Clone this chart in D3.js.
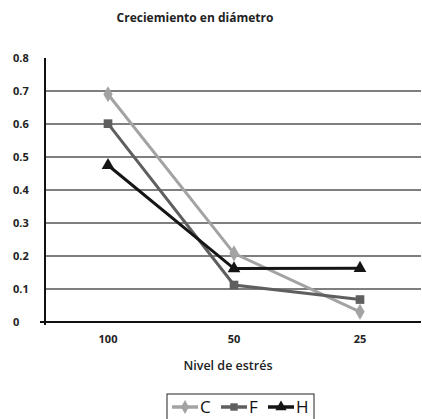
<!DOCTYPE html>
<html><head><meta charset="utf-8">
<script src="https://cdn.jsdelivr.net/npm/d3@7"></script>
<style>body{margin:0;background:#fff}svg{display:block}text{font-family:"Open Sans",sans-serif}</style>
</head><body><svg id="c" width="422" height="419"></svg>
<script>
const categories = ["100", "50", "25"];
const seriesNames = ["C", "F", "H"];
const valuesC = [0.69, 0.208, 0.031];
const valuesF = [0.601, 0.112, 0.068];
const valuesH = [0.475, 0.162, 0.163];
const yTicks = [0, 0.1, 0.2, 0.3, 0.4, 0.5, 0.6, 0.7, 0.8];
const yTickLabels = ["0", "0.1", "0.2", "0.3", "0.4", "0.5", "0.6", "0.7", "0.8"];
const title = "Creciemiento en diámetro";
const xTitle = "Nivel de estrés";

const series = [
  {name: seriesNames[0], values: valuesC, color: "#a3a3a3", sym: d3.symbolDiamond},
  {name: seriesNames[1], values: valuesF, color: "#5f5f5f", sym: d3.symbolSquare},
  {name: seriesNames[2], values: valuesH, color: "#151515", sym: d3.symbolTriangle}
];

const svg = d3.select("#c");
const pLeft = 45, pRight = 421, pTop = 58, pBottom = 322;
const x = d3.scaleBand().domain(categories).range([pLeft, pRight + 2]);
const cx = d => x(d) + x.bandwidth() / 2;
const y = d3.scaleLinear().domain([0, 0.8]).range([pBottom, pTop]);

// gridlines
svg.append("g").selectAll("line").data(yTicks.filter(t => t > 0 && t < 0.8)).join("line")
  .attr("x1", pLeft).attr("x2", pRight).attr("y1", d => y(d)).attr("y2", d => y(d))
  .attr("stroke", "#555").attr("stroke-width", 1.3);

// y axis labels
svg.append("g").selectAll("text").data(yTicks).join("text")
  .attr("x", 13).attr("y", d => y(d) + 4)
  .attr("font-size", 11).attr("font-weight", 700).attr("fill", "#222")
  .text((d, i) => yTickLabels[i]);

// y axis line
svg.append("line").attr("x1", pLeft).attr("x2", pLeft).attr("y1", pTop).attr("y2", pBottom + 3)
  .attr("stroke", "#111").attr("stroke-width", 2);
// x axis line
svg.append("line").attr("x1", 40).attr("x2", pRight).attr("y1", pBottom).attr("y2", pBottom)
  .attr("stroke", "#111").attr("stroke-width", 2.2);

// x labels
svg.append("g").selectAll("text").data(categories).join("text")
  .attr("x", d => cx(d)).attr("y", 343).attr("text-anchor", "middle")
  .attr("font-size", 11).attr("font-weight", 700).attr("fill", "#222").text(d => d);

// titles
svg.append("text").attr("x", 195).attr("y", 22).attr("text-anchor", "middle")
  .attr("font-size", 12).attr("font-weight", 700).attr("fill", "#222").text(title);
svg.append("text").attr("x", 228).attr("y", 370).attr("text-anchor", "middle")
  .attr("font-size", 12.5).attr("font-weight", 600).attr("fill", "#222").text(xTitle);

// lines
const line = d3.line().x((d, i) => cx(categories[i])).y(d => y(d));
series.forEach(s => {
  svg.append("path").datum(s.values).attr("d", line).attr("fill", "none")
    .attr("stroke", s.color).attr("stroke-width", 3);
  svg.append("g").selectAll("path").data(s.values).join("path")
    .attr("transform", (d, i) => `translate(${cx(categories[i])},${y(d)})`)
    .attr("d", d3.symbol().type(s.sym).size(s.sym === d3.symbolTriangle ? 70 : 75))
    .attr("fill", s.color);
});

// legend
const lg = svg.append("g");
lg.append("rect").attr("x", 167).attr("y", 394).attr("width", 147).attr("height", 30)
  .attr("fill", "none").attr("stroke", "#222").attr("stroke-width", 1);
const legX = [172, 221, 268];
series.forEach((s, i) => {
  const g = lg.append("g").attr("transform", `translate(${legX[i]},407)`);
  g.append("line").attr("x1", 0).attr("x2", 26).attr("stroke", s.color).attr("stroke-width", 3.5);
  g.append("path").attr("transform", "translate(13,0)")
    .attr("d", d3.symbol().type(s.sym).size(55)).attr("fill", s.color);
  g.append("text").attr("x", 28).attr("y", 6).attr("font-size", 17).attr("fill", "#111").text(s.name);
});
</script></body></html>
